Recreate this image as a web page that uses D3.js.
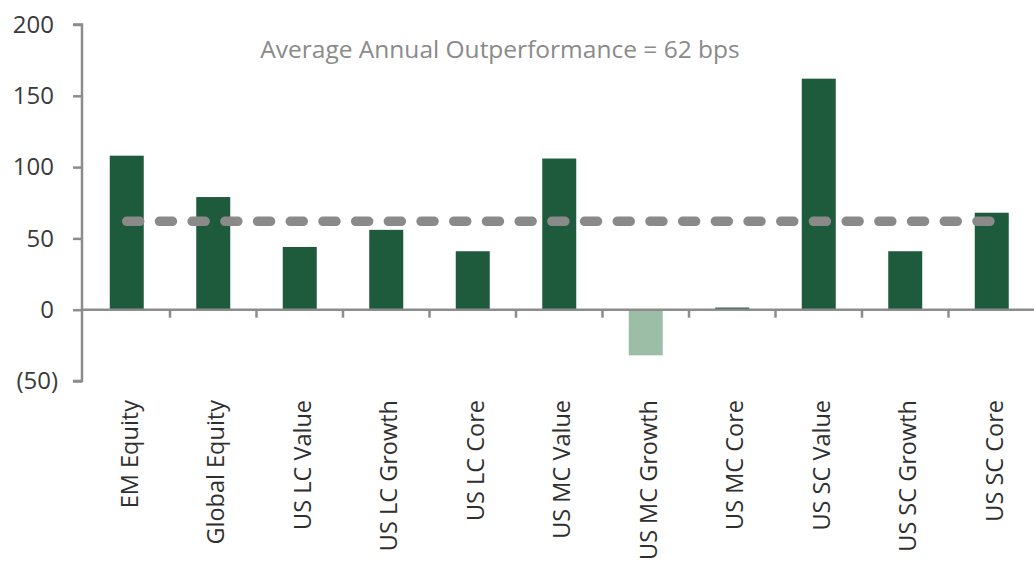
<!DOCTYPE html>
<html>
<head>
<meta charset="utf-8">
<script src="https://cdn.jsdelivr.net/npm/d3@7"></script>
<style>
  html, body { margin: 0; padding: 0; background: #ffffff; }
  svg { display: block; }
</style>
</head>
<body>
<svg id="chart" width="1034" height="563"></svg>
<script>
const categories = ["EM Equity", "Global Equity", "US LC Value", "US LC Growth", "US LC Core",
  "US MC Value", "US MC Growth", "US MC Core", "US SC Value", "US SC Growth", "US SC Core"];
const outperformance = [108, 79, 44, 56, 41, 106, -32, 1.5, 162, 41, 68];
const averageValue = 62;
const yTicks = [-50, 0, 50, 100, 150, 200];
const titleText = "Average Annual Outperformance = 62 bps";

const svg = d3.select("#chart");
const W = 1034, H = 563;
const axisX = 82;

const y = d3.scaleLinear().domain([-50, 200]).range([381, 24.5]);
const x = d3.scaleBand().domain(categories).range([83.5, 1035]).paddingInner(0.607).paddingOuter(0.3035);

const axisColor = "#8c8c8c";
const fontFam = "'Open Sans', 'Noto Sans', sans-serif";

// bars
svg.append("g").selectAll("rect").data(categories).join("rect")
  .attr("x", d => x(d))
  .attr("width", x.bandwidth())
  .attr("y", (d, i) => y(Math.max(0, outperformance[i])))
  .attr("height", (d, i) => Math.abs(y(outperformance[i]) - y(0)))
  .attr("fill", (d, i) => outperformance[i] < 0 ? "#9cbea6" : "#1e5a3c");

// y axis
const yAxis = d3.axisLeft(y).tickValues(yTicks).tickSize(9).tickPadding(19)
  .tickFormat(v => v < 0 ? "(" + Math.abs(v) + ")" : String(v));
const gy = svg.append("g").attr("transform", `translate(${axisX},0)`).call(yAxis);
gy.select(".domain").attr("stroke", axisColor).attr("stroke-width", 2.5).attr("d", `M-9,${y(200)}H0V${y(-50)}H-9`);
gy.selectAll(".tick line").attr("stroke", axisColor).attr("stroke-width", 2.5);
gy.selectAll(".tick text").attr("fill", "#3a3a3a").style("font-family", fontFam).style("font-size", "24px");
gy.selectAll(".tick text").filter(v => v < 0).attr("dx", "4");

// zero line (category axis)
const xAxis = d3.axisBottom(x).tickSize(0).tickFormat("");
const gx = svg.append("g").attr("transform", `translate(0,${y(0)})`).call(xAxis);
gx.select(".domain").attr("stroke", axisColor).attr("stroke-width", 2.5).attr("d", `M${axisX},0H${W}`);
gx.selectAll(".tick").remove();

// separator ticks between categories
const step = x.step();
const boundaries = categories.slice(1).map(c => x(c) - x.paddingInner() * step / 2);
svg.append("g").selectAll("line").data(boundaries).join("line")
  .attr("x1", d => d).attr("x2", d => d)
  .attr("y1", y(0)).attr("y2", y(0) + 8)
  .attr("stroke", axisColor).attr("stroke-width", 2.5);

// category labels
svg.append("g").selectAll("text").data(categories).join("text")
  .attr("transform", d => `translate(${x(d) + x.bandwidth() / 2 + 11},400) rotate(-90)`)
  .attr("text-anchor", "end")
  .attr("fill", "#2f2f2f")
  .style("font-family", fontFam)
  .style("font-size", "23.5px")
  .text(d => d);

// average dashed line
const x0 = x(categories[0]) + x.bandwidth() / 2;
const x1 = x(categories[categories.length - 1]) + x.bandwidth() / 2;
svg.append("line")
  .attr("x1", x0).attr("x2", x1)
  .attr("y1", y(averageValue)).attr("y2", y(averageValue))
  .attr("stroke", "#8a8a8a").attr("stroke-width", 9.5)
  .attr("stroke-linecap", "round")
  .attr("stroke-dasharray", "13 19.7");

// title
svg.append("text")
  .attr("x", 500).attr("y", 58)
  .attr("text-anchor", "middle")
  .attr("fill", "#8a8a8a")
  .style("font-family", fontFam)
  .style("font-size", "24.5px")
  .text(titleText);
</script>
</body>
</html>
